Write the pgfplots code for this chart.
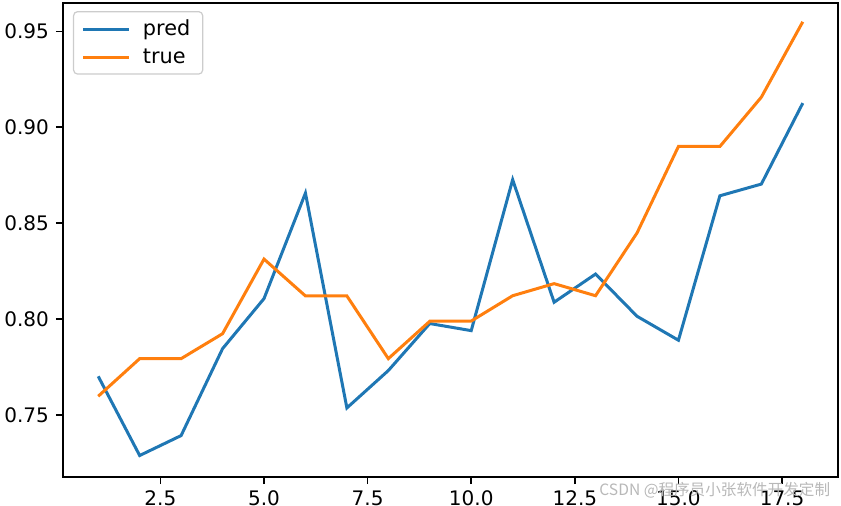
\documentclass[border=0pt]{standalone}
\usepackage{fontspec}
\setmainfont{DejaVu Sans}
\newfontfamily\cjk{Noto Sans CJK SC}
\usepackage{pgfplots}
\pgfplotsset{compat=1.18}
\definecolor{tabblue}{HTML}{1F77B4}
\definecolor{taborange}{HTML}{FF7F0E}
\begin{document}
\fontsize{10}{12}\selectfont
\begin{tikzpicture}
\useasboundingbox (-31.5pt,-14pt) rectangle (389pt,238.5pt);
\begin{axis}[
  at={(0,0)}, anchor=south west,
  scale only axis, width=387.5pt, height=237pt,
  xmin=0.15, xmax=18.85, ymin=0.7177, ymax=0.9648,
  xtick={2.5,5,7.5,10,12.5,15,17.5},
  xticklabels={2.5,5.0,7.5,10.0,12.5,15.0,17.5},
  ytick={0.75,0.80,0.85,0.90,0.95},
  yticklabels={0.75,0.80,0.85,0.90,0.95},
  tick pos=left, tick align=outside, major tick length=3.5pt,
  tick style={black, line width=0.8pt},
  axis line style={line width=0.8pt},
  ticklabel style={font=\fontsize{10}{12}\selectfont},
  xticklabel style={yshift=0.3pt},
  clip=false,
  legend cell align=left,
  legend style={at={(0.0129,0.983)}, anchor=north west, draw=black!20, fill=white,
    rounded corners=2pt, line width=0.6pt, font=\fontsize{10.4}{12}\selectfont,
    inner xsep=4.2pt, inner ysep=2pt, row sep=1pt},
  legend image code/.code={\draw[#1] (0pt,0pt) -- (23pt,0pt); \path (27pt,0pt);},
]
\addplot[tabblue, line width=1.5pt] coordinates {
(1,0.7702) (2,0.7289) (3,0.7393) (4,0.7846) (5,0.8107) (6,0.8657) (7,0.7537) (8,0.7732) (9,0.7977)
(10,0.7940) (11,0.8727) (12,0.8088) (13,0.8235) (14,0.8015) (15,0.7890) (16,0.8643) (17,0.8704) (18,0.9126)};
\addlegendentry{pred}
\addplot[taborange, line width=1.5pt] coordinates {
(1,0.7598) (2,0.7794) (3,0.7794) (4,0.7924) (5,0.8313) (6,0.8121) (7,0.8121) (8,0.7794) (9,0.7989)
(10,0.7990) (11,0.8122) (12,0.8185) (13,0.8122) (14,0.8449) (15,0.8900) (16,0.8900) (17,0.9157) (18,0.9550)};
\addlegendentry{true}
\node[text=black!28, font=\cjk\fontsize{7.8}{9}\selectfont, inner sep=0pt] at (rel axis cs:0.841,-0.028) {CSDN @程序员小张软件开发定制};
\end{axis}
\end{tikzpicture}
\end{document}
